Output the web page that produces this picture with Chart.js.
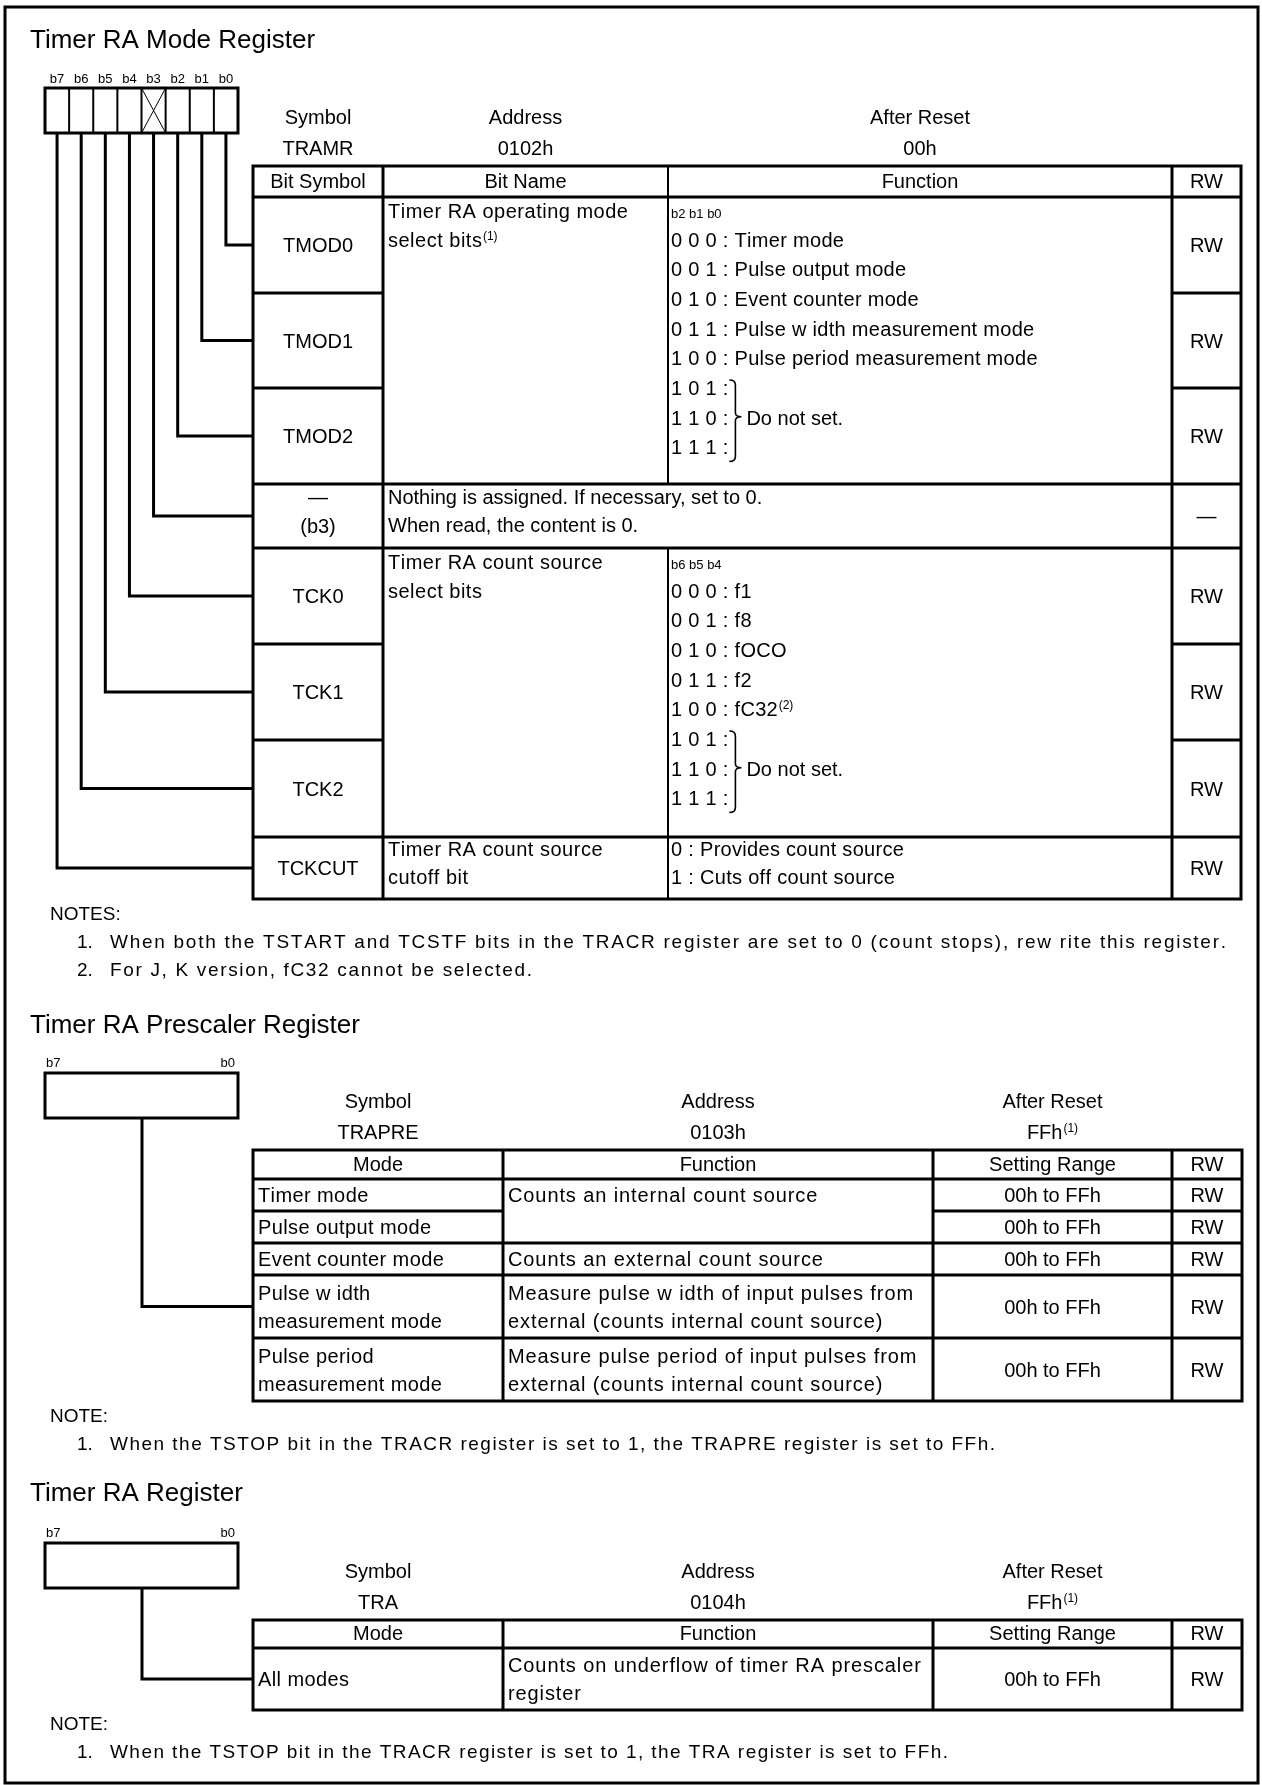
<!DOCTYPE html>
<html>
<head>
<meta charset="utf-8">
<title>Timer RA registers</title>
<script src="https://cdn.jsdelivr.net/npm/chart.js@4.4.1/dist/chart.umd.min.js"></script>
<style>
  html, body { margin: 0; padding: 0; background: #fff; }
  #sheet { display: block; }
</style>
</head>
<body>
<canvas id="sheet" width="1262" height="1785"></canvas>
<script>
// ---- register contents ----
const bitLabels = ['b7', 'b6', 'b5', 'b4', 'b3', 'b2', 'b1', 'b0'];
const unusedBit = 3;

// Timer RA Mode Register (TRAMR)
const tramrInfo = ['TRAMR', '0102h', '00h'];
const tramrHeader = ['Bit Symbol', 'Bit Name', 'Function', 'RW'];
const tramrBitSymbols = ['TMOD0', 'TMOD1', 'TMOD2', '—|(b3)', 'TCK0', 'TCK1', 'TCK2', 'TCKCUT'];
const tramrBitNumbers = [0, 1, 2, 3, 4, 5, 6, 7];
const tramrRw = ['RW', 'RW', 'RW', '—', 'RW', 'RW', 'RW', 'RW'];
const tmodName = ['Timer RA operating mode', 'select bits^(1)'];
const tmodBits = 'b2 b1 b0';
const tmodFunction = ['0 0 0 : Timer mode', '0 0 1 : Pulse output mode', '0 1 0 : Event counter mode',
  '0 1 1 : Pulse w idth measurement mode', '1 0 0 : Pulse period measurement mode'];
const reservedCodes = ['1 0 1 :', '1 1 0 :', '1 1 1 :'];
const reservedText = 'Do not set.';
const b3Text = ['Nothing is assigned. If necessary, set to 0.', 'When read, the content is 0.'];
const tckName = ['Timer RA count source', 'select bits'];
const tckBits = 'b6 b5 b4';
const tckFunction = ['0 0 0 : f1', '0 0 1 : f8', '0 1 0 : fOCO', '0 1 1 : f2', '1 0 0 : fC32^(2)'];
const tckcutName = ['Timer RA count source', 'cutoff bit'];
const tckcutFunction = ['0 : Provides count source', '1 : Cuts off count source'];
const tramrNotes = ['When both the TSTART and TCSTF bits in the TRACR register are set to 0 (count stops), rew rite this register.',
  'For J, K version, fC32 cannot be selected.'];

// Timer RA Prescaler Register (TRAPRE)
const trapreInfo = ['TRAPRE', '0103h', 'FFh^(1)'];
const countHeader = ['Mode', 'Function', 'Setting Range', 'RW'];
const trapreModes = [['Timer mode'], ['Pulse output mode'], ['Event counter mode'],
  ['Pulse w idth', 'measurement mode'], ['Pulse period', 'measurement mode']];
const trapreFunctions = [['Counts an internal count source'], null, ['Counts an external count source'],
  ['Measure pulse w idth of input pulses from', 'external (counts internal count source)'],
  ['Measure pulse period of input pulses from', 'external (counts internal count source)']];
const trapreRanges = ['00h to FFh', '00h to FFh', '00h to FFh', '00h to FFh', '00h to FFh'];
const trapreRw = ['RW', 'RW', 'RW', 'RW', 'RW'];
const trapreNote = 'When the TSTOP bit in the TRACR register is set to 1, the TRAPRE register is set to FFh.';

// Timer RA Register (TRA)
const traInfo = ['TRA', '0104h', 'FFh^(1)'];
const traModes = [['All modes']];
const traFunctions = [['Counts on underflow of timer RA prescaler', 'register']];
const traRanges = ['00h to FFh'];
const traRw = ['RW'];
const traNote = 'When the TSTOP bit in the TRACR register is set to 1, the TRA register is set to FFh.';

const titles = ['Timer RA Mode Register', 'Timer RA Prescaler Register', 'Timer RA Register'];
const infoHeader = ['Symbol', 'Address', 'After Reset'];

// ---- page layout (px in a 1262 x 1785 sheet) ----
const PAGE_W = 1262, PAGE_H = 1785;
const FONT = '"Liberation Sans", Arial, sans-serif';
const BOX_X = [45, 238];
const T1_COLS = [253, 383, 668, 1172, 1241];
const T1_TOP = 166;
const T1_ROWS = [197, 293, 388, 484, 548, 644, 740, 837, 899];
const T2_COLS = [253, 503, 933, 1172, 1242];
const NOTE_TEXT_X = 110;

const sheetPlugin = {
  id: 'registerSheet',
  afterDraw(chart) {
    const ctx = chart.ctx;
    const X = v => chart.scales.x.getPixelForValue(v);
    const Y = v => chart.scales.y.getPixelForValue(v);

    function line(x0, y0, x1, y1, w) {
      ctx.beginPath();
      ctx.lineWidth = w;
      ctx.moveTo(X(x0), Y(y0));
      ctx.lineTo(X(x1), Y(y1));
      ctx.stroke();
    }
    function rect(x0, y0, x1, y1, w) {
      ctx.lineWidth = w;
      ctx.strokeRect(X(x0), Y(y0), X(x1) - X(x0), Y(y1) - Y(y0));
    }
    // width of a run of characters drawn one by one with extra spacing
    function runWidth(s, sp) {
      let w = 0;
      for (const ch of s) w += ctx.measureText(ch).width + sp;
      return s.length ? w - sp : 0;
    }
    function run(s, x, y, sp) {
      if (!sp) { ctx.fillText(s, x, y); return; }
      for (const ch of s) {
        ctx.fillText(ch, x, y);
        x += ctx.measureText(ch).width + sp;
      }
    }
    // text with an optional ^superscript tail; returns right edge
    function text(str, x, y, size, align, sp) {
      sp = sp || 0;
      const parts = str.split('^');
      const supSize = Math.round(size * 0.58);
      ctx.font = size + 'px ' + FONT;
      const wMain = sp ? runWidth(parts[0], sp) : ctx.measureText(parts[0]).width;
      let wSup = 0;
      if (parts[1]) {
        ctx.font = supSize + 'px ' + FONT;
        wSup = ctx.measureText(parts[1]).width + 1;
      }
      let x0 = X(x);
      if (align === 'center') x0 -= (wMain + wSup) / 2;
      if (align === 'right') x0 -= wMain + wSup;
      ctx.textAlign = 'left';
      ctx.textBaseline = 'alphabetic';
      ctx.font = size + 'px ' + FONT;
      run(parts[0], x0, Y(y), sp);
      if (parts[1]) {
        ctx.font = supSize + 'px ' + FONT;
        ctx.fillText(parts[1], x0 + wMain + 1, Y(y) - size * 0.36);
      }
      return x0 + wMain + wSup;
    }
    // text stretched by letter spacing to end at xEnd
    function fitText(str, x, xEnd, y, size) {
      ctx.font = size + 'px ' + FONT;
      const natural = runWidth(str, 0);
      const sp = Math.max(0, (X(xEnd) - X(x) - natural) / (str.length - 1));
      return text(str, x, y, size, 'left', sp);
    }
    function brace(x, top, bottom) {
      const mid = (top + bottom) / 2 - 4;
      ctx.beginPath();
      ctx.lineWidth = 1.6;
      ctx.moveTo(X(x), Y(top));
      ctx.quadraticCurveTo(X(x + 6), Y(top), X(x + 6), Y(top + 5));
      ctx.lineTo(X(x + 6), Y(mid - 4));
      ctx.quadraticCurveTo(X(x + 6), Y(mid), X(x + 12), Y(mid));
      ctx.quadraticCurveTo(X(x + 6), Y(mid), X(x + 6), Y(mid + 4));
      ctx.lineTo(X(x + 6), Y(bottom - 5));
      ctx.quadraticCurveTo(X(x + 6), Y(bottom), X(x), Y(bottom));
      ctx.stroke();
      return x + 12;
    }
    function bitBox(top, split) {
      const h = 45;
      rect(BOX_X[0], top, BOX_X[1], top + h, 3);
      const cw = (BOX_X[1] - BOX_X[0]) / bitLabels.length;
      if (split) {
        bitLabels.forEach((b, i) => {
          text(b, BOX_X[0] + cw * (i + 0.5), top - 5, 13, 'center');
          if (i > 0) line(BOX_X[0] + cw * i, top, BOX_X[0] + cw * i, top + h, 2);
        });
        const k = bitLabels.indexOf('b' + unusedBit);
        line(BOX_X[0] + cw * k, top, BOX_X[0] + cw * (k + 1), top + h, 1);
        line(BOX_X[0] + cw * (k + 1), top, BOX_X[0] + cw * k, top + h, 1);
      } else {
        text(bitLabels[0], BOX_X[0] + 1, top - 6, 13, 'left');
        text(bitLabels[bitLabels.length - 1], BOX_X[1] - 3, top - 6, 13, 'right');
      }
      return { cw, bottom: top + h };
    }
    function infoRow(info, centers, y) {
      infoHeader.forEach((h, i) => text(h, centers[i], y, 20, 'center'));
      info.forEach((v, i) => text(v, centers[i], y + 31, 20, 'center'));
    }
    function notes(heading, list, ends, y) {
      text(heading, 50, y, 19, 'left');
      list.forEach((n, i) => {
        text((i + 1) + '.', 77, y + 28 * (i + 1), 19, 'left');
        fitText(n, NOTE_TEXT_X, ends[i], y + 28 * (i + 1), 19);
      });
    }

    ctx.save();
    ctx.fillStyle = '#000';
    ctx.strokeStyle = '#000';
    ctx.lineCap = 'butt';

    // page frame
    rect(5, 7, 1258, 1783, 3);

    // ================= Timer RA Mode Register =================
    text(titles[0], 30, 48, 26, 'left');
    const box1 = bitBox(88, true);
    const c = T1_COLS;
    infoRow(tramrInfo, [(c[0] + c[1]) / 2, (c[1] + c[2]) / 2, (c[2] + c[3]) / 2], 124);

    // grid
    rect(c[0], T1_TOP, c[4], T1_ROWS[T1_ROWS.length - 1], 3);
    line(c[0], T1_ROWS[0], c[4], T1_ROWS[0], 3);
    line(c[1], T1_TOP, c[1], T1_ROWS[8], 3);
    line(c[3], T1_TOP, c[3], T1_ROWS[8], 3);
    line(c[2], T1_TOP, c[2], T1_ROWS[3], 2);
    line(c[2], T1_ROWS[4], c[2], T1_ROWS[8], 2);
    for (let r = 1; r < 8; r++) {
      const y = T1_ROWS[r];
      const full = (r === 3 || r === 4 || r === 7);
      if (full) {
        line(c[0], y, c[4], y, 3);
      } else {
        line(c[0], y, c[1], y, 3);
        line(c[3], y, c[4], y, 3);
      }
    }
    tramrHeader.forEach((h, i) => text(h, (c[i] + c[i + 1]) / 2, T1_ROWS[0] - 9, 20, 'center'));

    // bit rows + connectors from the bit box
    tramrBitSymbols.forEach((s, r) => {
      const top = T1_ROWS[r], bot = T1_ROWS[r + 1], mid = (top + bot) / 2;
      const cx = (c[0] + c[1]) / 2;
      if (s.indexOf('|') >= 0) {
        const p = s.split('|');
        text(p[0], cx, top + 20, 20, 'center');
        text(p[1], cx, top + 49, 20, 'center');
      } else {
        text(s, cx, mid + 7, 20, 'center');
      }
      text(tramrRw[r], (c[3] + c[4]) / 2, mid + 7, 20, 'center');
      const cell = bitLabels.indexOf('b' + tramrBitNumbers[r]);
      const bx = BOX_X[0] + box1.cw * (cell + 0.5);
      ctx.beginPath();
      ctx.lineWidth = 3;
      ctx.moveTo(X(bx), Y(box1.bottom));
      ctx.lineTo(X(bx), Y(mid));
      ctx.lineTo(X(c[0]), Y(mid));
      ctx.stroke();
    });

    // merged Bit Name / Function blocks
    function selectBlock(top, name, bits, fn) {
      text(name[0], c[1] + 5, top + 21, 20, 'left', 0.5);
      text(name[1], c[1] + 5, top + 50, 20, 'left', 0.5);
      text(bits, c[2] + 3, top + 21, 13, 'left');
      const step = 29.7, first = top + 49.5;
      fn.forEach((f, i) => text(f, c[2] + 3, first + step * i, 20, 'left', 0.3));
      let codeEnd = 0;
      reservedCodes.forEach((f, i) => {
        codeEnd = Math.max(codeEnd, text(f, c[2] + 3, first + step * (fn.length + i), 20, 'left', 0.3));
      });
      const bTop = first + step * fn.length - 15;
      const bBot = first + step * (fn.length + 2) + 7;
      const tip = brace(codeEnd + 1, bTop, bBot);
      text(reservedText, tip + 5, first + step * (fn.length + 1), 20, 'left');
    }
    selectBlock(T1_ROWS[0], tmodName, tmodBits, tmodFunction);
    selectBlock(T1_ROWS[4], tckName, tckBits, tckFunction);

    text(b3Text[0], c[1] + 5, T1_ROWS[3] + 20, 20, 'left');
    text(b3Text[1], c[1] + 5, T1_ROWS[3] + 48, 20, 'left');
    tckcutName.forEach((t, i) => text(t, c[1] + 5, T1_ROWS[7] + 19 + 28 * i, 20, 'left', 0.5));
    tckcutFunction.forEach((t, i) => text(t, c[2] + 3, T1_ROWS[7] + 19 + 28 * i, 20, 'left', 0.3));

    notes('NOTES:', tramrNotes, [1226, 532], 920);

    // ============ count tables (prescaler + counter) ============
    function countTable(top, rows, modes, funcs, ranges, rws, mergeAfter) {
      const k = T2_COLS;
      const bottom = rows[rows.length - 1];
      rect(k[0], top, k[4], bottom, 3);
      line(k[0], rows[0], k[4], rows[0], 3);
      [1, 2, 3].forEach(i => line(k[i], top, k[i], bottom, 3));
      for (let r = 1; r < rows.length - 1; r++) {
        if (mergeAfter.indexOf(r - 1) >= 0) {
          line(k[0], rows[r], k[1], rows[r], 3);
          line(k[2], rows[r], k[4], rows[r], 3);
        } else {
          line(k[0], rows[r], k[4], rows[r], 3);
        }
      }
      countHeader.forEach((h, i) => text(h, (k[i] + k[i + 1]) / 2, rows[0] - 8, 20, 'center'));
      modes.forEach((m, r) => {
        const t = rows[r], b = rows[r + 1], mid = (t + b) / 2;
        const y0 = mid + 7 - (m.length - 1) * 14;
        m.forEach((s, j) => text(s, k[0] + 5, y0 + 28 * j, 20, 'left', 0.4));
        const f = funcs[r];
        if (f) {
          const fy = mergeAfter.indexOf(r) >= 0 ? mid + 7 : y0;
          const fy0 = mid + 7 - (f.length - 1) * 14;
          f.forEach((s, j) => text(s, k[1] + 5, (f.length > 1 ? fy0 : fy) + 28 * j, 20, 'left', 0.9));
        }
        text(ranges[r], (k[2] + k[3]) / 2, mid + 7, 20, 'center');
        text(rws[r], (k[3] + k[4]) / 2, mid + 7, 20, 'center');
      });
    }
    function connector(boxBottom, y) {
      ctx.beginPath();
      ctx.lineWidth = 3;
      ctx.moveTo(X(142), Y(boxBottom));
      ctx.lineTo(X(142), Y(y));
      ctx.lineTo(X(T2_COLS[0]), Y(y));
      ctx.stroke();
    }
    const k = T2_COLS;
    const infoCenters = [(k[0] + k[1]) / 2, (k[1] + k[2]) / 2, (k[2] + k[3]) / 2];

    // Timer RA Prescaler Register
    text(titles[1], 30, 1033, 26, 'left');
    const box2 = bitBox(1073, false);
    infoRow(trapreInfo, infoCenters, 1108);
    const preRows = [1179, 1211, 1243, 1275, 1338, 1401];
    countTable(1150, preRows, trapreModes, trapreFunctions, trapreRanges, trapreRw, [0]);
    connector(box2.bottom, (preRows[3] + preRows[4]) / 2);
    notes('NOTE:', [trapreNote], [995], 1422);

    // Timer RA Register
    text(titles[2], 30, 1501, 26, 'left');
    const box3 = bitBox(1543, false);
    infoRow(traInfo, infoCenters, 1578);
    const traRows = [1648, 1710];
    countTable(1620, traRows, traModes, traFunctions, traRanges, traRw, []);
    connector(box3.bottom, (traRows[0] + traRows[1]) / 2);
    notes('NOTE:', [traNote], [948], 1730);

    ctx.restore();
  }
};

new Chart(document.getElementById('sheet'), {
  type: 'scatter',
  data: { datasets: [] },
  options: {
    responsive: false,
    animation: false,
    events: [],
    layout: { padding: 0 },
    plugins: { legend: { display: false }, tooltip: { enabled: false } },
    scales: {
      x: { type: 'linear', min: 0, max: PAGE_W, display: false },
      y: { type: 'linear', min: 0, max: PAGE_H, reverse: true, display: false }
    }
  },
  plugins: [sheetPlugin]
});
</script>
</body>
</html>
